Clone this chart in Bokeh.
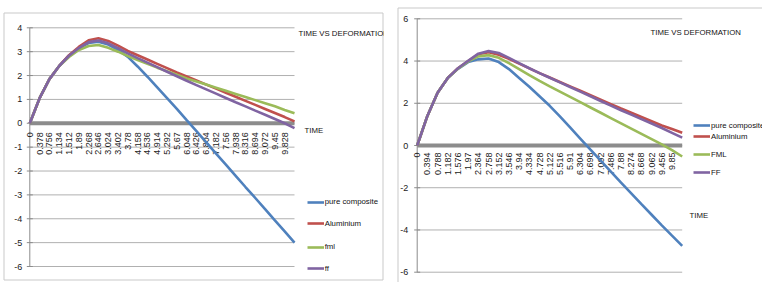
import math
from bokeh.plotting import figure
from bokeh.models import Label, Legend, LegendItem, BoxAnnotation, Range1d
from bokeh.layouts import row
from bokeh.embed import file_html
from bokeh.resources import INLINE
from bokeh.core.properties import value

SANS = "'Liberation Sans', Arial, sans-serif"

SERIES_NAMES_LEFT = ["pure composite", "Aluminium", "fml", "ff"]
SERIES_NAMES_RIGHT = ["pure composite", "Aluminium", "FML", "FF"]
COLORS = ["#4F81BD", "#C0504D", "#9BBB59", "#8064A2"]

# ---------------- left chart data ----------------
left_tick_labels = ["0", "0.378", "0.756", "1.134", "1.512", "1.89", "2.268", "2.646",
                    "3.024", "3.402", "3.78", "4.158", "4.536", "4.914", "5.292", "5.67",
                    "6.048", "6.426", "6.804", "7.182", "7.56", "7.938", "8.316", "8.694",
                    "9.072", "9.45", "9.828"]
left_time = [0, 0.378, 0.756, 1.134, 1.512, 1.89, 2.268, 2.646, 3.024, 3.402, 3.78,
             4.158, 4.536, 4.914, 5.292, 5.67, 6.048, 6.426, 6.804, 7.182, 7.56, 7.938,
             8.316, 8.694, 9.072, 9.45, 9.828, 10.206]
left_pure = [0, 1.05, 1.85, 2.4, 2.84, 3.15, 3.36, 3.42, 3.3, 3.08, 2.78, 2.38, 1.95,
             1.5, 1.05, 0.6, 0.13, -0.33, -0.8, -1.27, -1.73, -2.2, -2.67, -3.13, -3.6,
             -4.07, -4.53, -5.0]
left_al = [0, 1.05, 1.85, 2.4, 2.85, 3.2, 3.48, 3.56, 3.45, 3.25, 3.03, 2.85, 2.67,
           2.49, 2.31, 2.13, 1.96, 1.79, 1.62, 1.45, 1.28, 1.11, 0.94, 0.77, 0.6, 0.43,
           0.26, 0.08]
left_fml = [0, 1.05, 1.85, 2.4, 2.78, 3.07, 3.24, 3.28, 3.16, 3.0, 2.82, 2.65, 2.49,
            2.33, 2.18, 2.03, 1.88, 1.75, 1.62, 1.49, 1.36, 1.23, 1.1, 0.97, 0.84, 0.71,
            0.56, 0.42]
left_ff = [0, 1.05, 1.85, 2.4, 2.83, 3.15, 3.4, 3.47, 3.35, 3.15, 2.93, 2.73, 2.54,
           2.35, 2.16, 1.97, 1.78, 1.6, 1.42, 1.24, 1.06, 0.88, 0.71, 0.53, 0.36, 0.18,
           0.0, -0.2]
left_y_ticks = [-6, -5, -4, -3, -2, -1, 0, 1, 2, 3, 4]

# ---------------- right chart data ----------------
right_tick_labels = ["0", "0.394", "0.788", "1.182", "1.576", "1.97", "2.364", "2.758",
                     "3.152", "3.546", "3.94", "4.334", "4.728", "5.122", "5.516", "5.91",
                     "6.304", "6.698", "7.092", "7.486", "7.88", "8.274", "8.668", "9.062",
                     "9.456", "9.85"]
right_time = [0, 0.394, 0.788, 1.182, 1.576, 1.97, 2.364, 2.758, 3.152, 3.546, 3.94,
              4.334, 4.728, 5.122, 5.516, 5.91, 6.304, 6.698, 7.092, 7.486, 7.88, 8.274,
              8.668, 9.062, 9.456, 9.85, 10.244]
right_pure = [0, 1.4, 2.5, 3.2, 3.63, 3.95, 4.08, 4.12, 3.95, 3.62, 3.2, 2.78, 2.33,
              1.88, 1.38, 0.86, 0.33, -0.2, -0.72, -1.24, -1.76, -2.27, -2.78, -3.28,
              -3.78, -4.27, -4.75]
right_al = [0, 1.4, 2.5, 3.2, 3.66, 4.0, 4.32, 4.42, 4.3, 4.1, 3.88, 3.65, 3.43, 3.22,
            3.01, 2.8, 2.59, 2.38, 2.17, 1.96, 1.75, 1.55, 1.35, 1.15, 0.95, 0.78, 0.6]
right_fml = [0, 1.4, 2.5, 3.2, 3.64, 3.98, 4.22, 4.28, 4.15, 3.9, 3.62, 3.33, 3.06,
             2.8, 2.55, 2.3, 2.05, 1.8, 1.55, 1.3, 1.05, 0.8, 0.55, 0.3, 0.05, -0.22,
             -0.52]
right_ff = [0, 1.4, 2.5, 3.2, 3.66, 4.01, 4.35, 4.47, 4.38, 4.15, 3.9, 3.66, 3.43,
            3.21, 2.99, 2.77, 2.55, 2.33, 2.11, 1.89, 1.67, 1.46, 1.25, 1.04, 0.83, 0.6,
            0.37]
right_y_ticks = [-6, -4, -2, 0, 2, 4, 6]

TITLE = "TIME VS DEFORMATION"
XLABEL = "TIME"

PAGE_TOP = 0
FIG_H = 282
TXT = "7.8px"


def make_chart(fig_left, width, area, xmax, ymin, ymax, tick_labels, time, series,
               names, y_ticks, ylab_off, xlab_off, box, title_pos, time_pos,
               legend_x, legend_ys):
    # area = (left, right, top, bottom) of the plotting region in page pixels
    l, r, t, b = area
    l -= fig_left
    r -= fig_left
    t -= PAGE_TOP
    b -= PAGE_TOP
    sx = (r - l) / xmax
    sy = (b - t) / (ymax - ymin)
    x0 = -l / sx
    y1 = ymax + t / sy
    p = figure(width=width, height=FIG_H, output_backend="svg", toolbar_location=None,
               x_range=Range1d(x0, x0 + width / sx),
               y_range=Range1d(y1 - FIG_H / sy, y1),
               x_axis_location=None, y_axis_location=None, min_border=0)
    p.outline_line_color = None
    p.background_fill_color = "white"
    p.border_fill_color = "white"
    p.grid.visible = False

    # outer chart border (page pixel box converted through the plot's scales)
    def dx(px):
        return x0 + (px - fig_left) / sx

    def dy(py):
        return y1 - (py - PAGE_TOP) / sy

    p.add_layout(BoxAnnotation(left=dx(box[0]), right=dx(box[1]),
                               top=dy(box[2]), bottom=dy(box[3]),
                               fill_color=None, fill_alpha=0,
                               line_color="#c9c9c9", line_alpha=1.0, line_width=1,
                               level="underlay"))

    # horizontal gridlines
    p.segment(x0=[0] * len(y_ticks), x1=[xmax] * len(y_ticks), y0=y_ticks, y1=y_ticks,
              line_color="#b0b0b0", line_width=1)
    # vertical axis line, ticks and labels
    p.segment(x0=[0], x1=[0], y0=[ymin], y1=[ymax], line_color="#8c8c8c", line_width=1)
    p.scatter(x=[0] * len(y_ticks), y=y_ticks, marker="dash", size=6,
              line_color="#8c8c8c", line_width=1)
    p.text(x=[0] * len(y_ticks), y=y_ticks, text=[str(v) for v in y_ticks],
           x_offset=ylab_off, text_align="right", text_baseline="middle",
           text_font=value(SANS), text_font_size="9px", text_color="#222222")
    # thick horizontal axis at zero
    p.segment(x0=[0], x1=[xmax], y0=[0], y1=[0], line_color="#8c8c8c", line_width=4)
    # category labels, rotated, hanging below the zero line
    ticks = [float(s) for s in tick_labels]
    p.text(x=ticks, y=[0] * len(ticks), text=tick_labels, angle=math.pi / 2,
           y_offset=xlab_off, text_align="right", text_baseline="middle",
           text_font=value(SANS), text_font_size="9px", text_color="#222222")

    renderers = []
    for ys, c in zip(series, COLORS):
        rr = p.line(time, ys, line_width=2.6, line_color=c)
        renderers.append(rr)

    def lx(px):
        return px - fig_left

    def ly(py):
        return PAGE_TOP + FIG_H - py

    p.add_layout(Label(x=lx(title_pos[0]), y=ly(title_pos[1]), x_units="screen",
                       y_units="screen", text=TITLE, text_font=SANS,
                       text_font_size=TXT, text_baseline="middle",
                       text_color="#111111"))
    p.add_layout(Label(x=lx(time_pos[0]), y=ly(time_pos[1]), x_units="screen",
                       y_units="screen", text=XLABEL, text_font=SANS,
                       text_font_size=TXT, text_baseline="middle",
                       text_color="#111111"))

    for name, rr, yc in zip(names, renderers, legend_ys):
        lg = Legend(items=[LegendItem(label=name, renderers=[rr])],
                    location=(lx(legend_x), ly(yc) - 7),
                    glyph_width=17, glyph_height=14, label_height=14, label_standoff=1,
                    padding=0, margin=0, spacing=0, border_line_color=None,
                    background_fill_alpha=0, label_text_font=SANS,
                    label_text_font_size=TXT, label_text_color="#111111")
        p.add_layout(lg)
    return p


left = make_chart(0, 384, (29.3, 294, 27.3, 266), 10.206, -6, 4, left_tick_labels,
                  left_time, [left_pure, left_al, left_fml, left_ff], SERIES_NAMES_LEFT,
                  left_y_ticks, -7.5, 9, (3.5, 382.5, 12.5, 279.5),
                  (298, 33), (304, 130), 306.7, [201.7, 223.3, 246.7, 268.3])

right = make_chart(384, 378, (416.7, 681.7, 18.3, 271.7), 10.244, -6, 6,
                   right_tick_labels, right_time,
                   [right_pure, right_al, right_fml, right_ff], SERIES_NAMES_RIGHT,
                   right_y_ticks, -9, 7, (397.5, 775, 7.5, 295),
                   (650, 32), (689, 215), 693, [125, 136, 154, 172.3])

layout = row(left, right)
open("out.html", "w").write(file_html(layout, INLINE))
